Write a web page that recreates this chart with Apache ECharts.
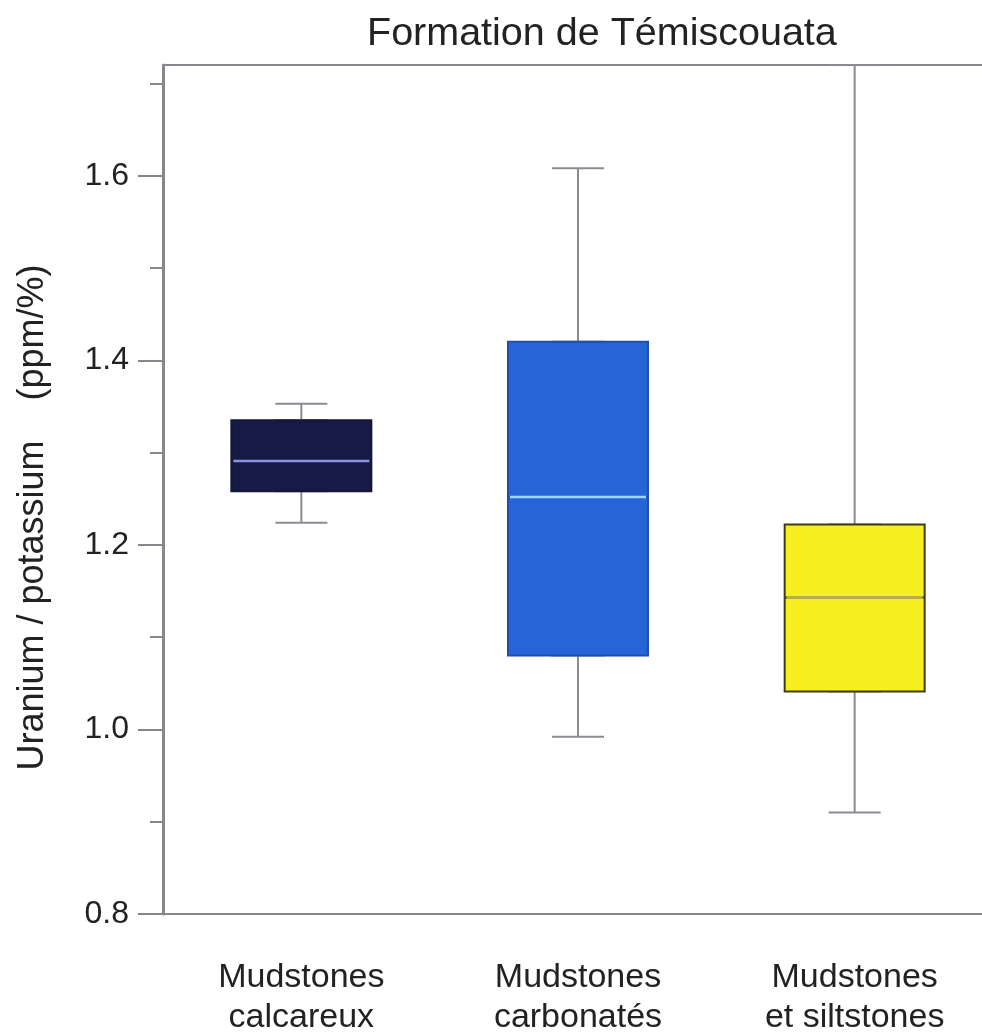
<!DOCTYPE html>
<html>
<head>
<meta charset="utf-8">
<title>Formation de Témiscouata</title>
<script src="https://cdn.jsdelivr.net/npm/echarts@6/dist/echarts.min.js"></script>
<style>
  html, body { margin: 0; padding: 0; background: #fff; }
  #chart { width: 982px; height: 1032px; }
</style>
</head>
<body>
<div id="chart"></div>
<script>
// data
var categories = ['Mudstones\ncalcareux', 'Mudstones\ncarbonatés', 'Mudstones\net siltstones'];
// [min, Q1, median, Q3, max]
var boxStats = [
    [1.224, 1.258, 1.291, 1.335, 1.353],
    [0.992, 1.080, 1.252, 1.420, 1.608],
    [0.910, 1.041, 1.143, 1.222, 1.720]
];
var boxFill = ['#161a44', '#2764d8', '#f7ef1f'];
var boxBorder = ['#14163a', '#1f4fae', '#3e3c12'];
var medianColor = ['#8d92e2', '#9fd8ff', '#b9b15a'];
var majorTicks = [0.8, 1.0, 1.2, 1.4, 1.6];
var minorTicks = [0.9, 1.1, 1.3, 1.5, 1.7];
var yMin = 0.8, yMax = 1.72;

var chart = echarts.init(document.getElementById('chart'));

// ==============================================================
// build series from the stats
// ==============================================================
var whiskerData = boxStats.map(function (s) { return s.slice(); });
var boxData = boxStats.map(function (s, i) {
    return {
        value: [s[1], s[1], s[2], s[3], s[3]],
        itemStyle: { color: boxFill[i], borderColor: boxBorder[i] }
    };
});
var medianData = boxStats.map(function (s, i) {
    return {
        value: [s[2], s[2], s[2], s[2], s[2]],
        itemStyle: { borderColor: medianColor[i] }
    };
});

var axisGray = '#85878c';
var hiddenCat = { type: 'category', data: categories, show: false };

var option = {
    animation: false,
    title: {
        text: 'Formation de Témiscouata',
        left: 362,
        top: 9,
        textStyle: { fontFamily: 'Liberation Sans', fontSize: 39.5, fontWeight: 'normal', color: '#222' }
    },
    grid: { left: 163, top: 65, width: 830, height: 849, outerBoundsMode: 'none' },
    xAxis: [
        {
            type: 'category',
            data: categories,
            position: 'bottom',
            axisLine: { onZero: false, lineStyle: { color: axisGray, width: 2 } },
            axisTick: { alignWithLabel: true, length: 26, lineStyle: { color: axisGray, width: 2 } },
            axisLabel: {
                margin: 44, fontFamily: 'Liberation Sans', fontSize: 34, lineHeight: 40, color: '#222'
            },
            splitLine: { show: false }
        },
        hiddenCat,
        echarts.util.clone(hiddenCat),
        {
            type: 'category',
            data: categories,
            position: 'top',
            axisLine: { onZero: false, lineStyle: { color: axisGray, width: 2 } },
            axisTick: { show: false },
            axisLabel: { show: false },
            splitLine: { show: false }
        }
    ],
    yAxis: [
        {
            type: 'value',
            min: yMin,
            max: yMax,
            position: 'left',
            name: 'Uranium / potassium    (ppm/%)',
            nameLocation: 'middle',
            nameGap: 112,
            nameTextStyle: { fontFamily: 'Liberation Sans', fontSize: 36, color: '#222', padding: [0, 56, 0, 0] },
            axisLine: { show: true, lineStyle: { color: axisGray, width: 3 } },
            axisTick: { show: true, length: 25, customValues: majorTicks, lineStyle: { color: axisGray, width: 2 } },
            axisLabel: {
                customValues: majorTicks,
                margin: 34,
                fontFamily: 'Liberation Sans', fontSize: 32, color: '#222',
                formatter: function (v) { return v.toFixed(1); }
            },
            splitLine: { show: false }
        },
        {
            type: 'value',
            min: yMin,
            max: yMax,
            position: 'left',
            axisLine: { show: false },
            axisTick: { show: true, length: 13, customValues: minorTicks, lineStyle: { color: axisGray, width: 2 } },
            axisLabel: { show: false },
            splitLine: { show: false }
        }
    ],
    series: [
        {
            // whiskers (narrow caps)
            type: 'boxplot',
            xAxisIndex: 0,
            yAxisIndex: 0,
            boxWidth: [52, 52],
            itemStyle: { color: 'rgba(0,0,0,0)', borderColor: '#8a8c94', borderWidth: 2 },
            emphasis: { disabled: true },
            data: whiskerData,
            z: 2
        },
        {
            // boxes
            type: 'boxplot',
            xAxisIndex: 1,
            yAxisIndex: 0,
            boxWidth: [140, 140],
            itemStyle: { borderWidth: 2 },
            emphasis: { disabled: true },
            data: boxData,
            z: 3
        },
        {
            // medians
            type: 'boxplot',
            xAxisIndex: 2,
            yAxisIndex: 0,
            boxWidth: [136, 136],
            itemStyle: { color: 'rgba(0,0,0,0)', borderWidth: 2.5 },
            emphasis: { disabled: true },
            data: medianData,
            z: 4
        }
    ]
};

chart.setOption(option);
</script>
</body>
</html>
